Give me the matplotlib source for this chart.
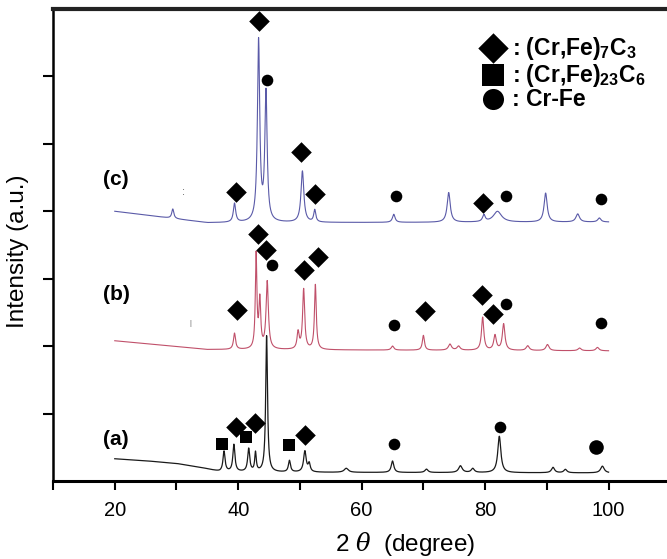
import numpy as np
import matplotlib
matplotlib.use("Agg")
import matplotlib.pyplot as plt

plt.rcParams['font.family'] = ['Liberation Sans', 'DejaVu Sans']
plt.rcParams['mathtext.fontset'] = 'custom'
plt.rcParams['mathtext.rm'] = 'Liberation Sans:bold'
plt.rcParams['mathtext.it'] = 'DejaVu Serif:italic'
plt.rcParams['mathtext.default'] = 'rm'

# ---- data (2theta in degrees, intensity in arbitrary stacked units) ----
# baselines: knots (2theta, level)
base_a_x = [20, 25, 30, 34, 37, 45, 100]
base_a_y = [0.33, 0.30, 0.26, 0.20, 0.14, 0.13, 0.12]
base_b_x = [20, 35, 100]
base_b_y = [2.08, 1.95, 1.93]
base_c_x = [20, 35, 100]
base_c_y = [4.00, 3.83, 3.84]

# peaks: position, height above baseline, FWHM
peaks_a_pos = [37.7, 39.3, 41.7, 42.8, 44.6, 48.3, 50.8, 51.5, 57.5, 65.0, 70.5, 76.0, 78.0, 82.3, 91.0, 93.0, 99.0]
peaks_a_h   = [0.30, 0.40, 0.34, 0.28, 2.02, 0.17, 0.31, 0.12, 0.06, 0.17, 0.05, 0.10, 0.06, 0.54, 0.08, 0.05, 0.10]
peaks_a_w   = [0.4, 0.4, 0.4, 0.3, 0.35, 0.4, 0.5, 0.4, 0.8, 0.5, 0.6, 0.7, 0.6, 0.6, 0.6, 0.6, 0.7]

peaks_b_pos = [39.4, 42.9, 43.5, 44.7, 49.7, 50.6, 52.5, 65.0, 70.0, 74.3, 75.7, 79.6, 81.6, 83.0, 86.9, 90.1, 95.3, 98.2]
peaks_b_h   = [0.24, 1.39, 0.71, 1.00, 0.25, 0.89, 0.96, 0.06, 0.22, 0.09, 0.06, 0.49, 0.22, 0.39, 0.07, 0.09, 0.04, 0.05]
peaks_b_w   = [0.4, 0.3, 0.35, 0.45, 0.4, 0.4, 0.35, 0.5, 0.4, 0.6, 0.6, 0.45, 0.5, 0.5, 0.6, 0.6, 0.6, 0.6]

peaks_c_pos = [29.4, 39.4, 43.3, 44.5, 50.4, 52.4, 65.2, 74.1, 79.8, 82.0, 89.8, 95.0, 98.5]
peaks_c_h   = [0.14, 0.28, 2.68, 1.90, 0.76, 0.18, 0.12, 0.44, 0.10, 0.16, 0.43, 0.12, 0.06]
peaks_c_w   = [0.4, 0.45, 0.45, 0.45, 0.55, 0.4, 0.5, 0.6, 0.5, 1.6, 0.6, 0.7, 0.6]

# phase markers (2theta, vertical position)
diam_x = [39.7, 42.7, 50.8, 39.8, 43.2, 44.5, 50.7, 52.9, 70.3, 79.5, 81.3, 43.3, 39.7, 50.1, 52.4, 79.7]
diam_y = [0.80, 0.86, 0.68, 2.54, 3.66, 3.43, 3.13, 3.32, 2.52, 2.76, 2.48, 6.82, 4.29, 4.88, 4.26, 4.12]
sq_x = [37.4, 41.3, 48.2]
sq_y = [0.556, 0.653, 0.534]
circ_x = [65.2, 82.4, 45.4, 65.3, 83.4, 98.8, 44.6, 65.5, 83.4, 98.8]
circ_y = [0.556, 0.80, 3.20, 2.32, 2.63, 2.35, 5.95, 4.22, 4.23, 4.18]
big_circ_x = [97.9]
big_circ_y = [0.50]

labels = ['(a)', '(b)', '(c)']
label_y = [0.62, 2.77, 4.47]
legend_texts = [r': (Cr,Fe)$_{7}$C$_{3}$', r': (Cr,Fe)$_{23}$C$_{6}$', ': Cr-Fe']
legend_y = [6.42, 6.02, 5.66]
xticks = [20, 40, 60, 80, 100]


def pattern(bx, by, pos, h, w, x):
    y = np.interp(x, bx, by)
    for p, a, fw in zip(pos, h, w):
        g = (fw / 2.0) ** 2
        y = y + a * g / ((x - p) ** 2 + g)
    return y


x = np.linspace(20, 100, 4001)
ya = pattern(base_a_x, base_a_y, peaks_a_pos, peaks_a_h, peaks_a_w, x)
yb = pattern(base_b_x, base_b_y, peaks_b_pos, peaks_b_h, peaks_b_w, x)
yc = pattern(base_c_x, base_c_y, peaks_c_pos, peaks_c_h, peaks_c_w, x)

fig = plt.figure(figsize=(6.67, 5.59), dpi=100)
ax = fig.add_axes([0.0795, 0.1395, 1.018, 0.8444])

ax.plot(x, ya, color='#1a1a1a', lw=0.9)
ax.plot(x, yb, color='#c0506a', lw=0.8)
ax.plot(x, yc, color='#5a5aa8', lw=0.8)

ax.scatter(diam_x, diam_y, marker='D', s=110, color='black', zorder=5, linewidths=0)
ax.scatter(sq_x, sq_y, marker='s', s=70, color='black', zorder=5, linewidths=0)
ax.scatter(circ_x, circ_y, marker='o', s=70, color='black', zorder=5, linewidths=0)
ax.scatter(big_circ_x, big_circ_y, marker='o', s=110, color='black', zorder=5, linewidths=0)

for lab, ly in zip(labels, label_y):
    ax.text(20.2, ly, lab, fontsize=15, fontweight='bold', ha='center', va='center')

# small scan artefacts
ax.text(31.2, 4.29, ':', fontsize=8, color='#555555', ha='center', va='center')
ax.text(32.3, 2.34, '|', fontsize=5, color='#666666', ha='center', va='center')

# legend
leg_marker_x = 81.3
ax.scatter([leg_marker_x], [legend_y[0]], marker='D', s=240, color='black', linewidths=0)
ax.scatter([leg_marker_x], [legend_y[1]], marker='s', s=260, color='black', linewidths=0)
ax.scatter([leg_marker_x], [legend_y[2]], marker='o', s=230, color='black', linewidths=0)
for t, ly in zip(legend_texts, legend_y):
    ax.text(84.4, ly, t, fontsize=16.5, fontweight='bold', ha='left', va='center')

ax.set_xlim(10, 120)
ax.set_ylim(0, 7)
ax.set_xticks(xticks)
ax.set_xticks(np.arange(10, 121, 10), minor=True)
ax.set_xticklabels([str(v) for v in xticks], fontsize=14.5)
ax.set_yticks([1, 2, 3, 4, 5, 6])
ax.set_yticklabels([])
ax.tick_params(axis='x', which='both', direction='out', length=6.5, width=1.5, pad=8)
ax.tick_params(axis='y', direction='out', length=7, width=1.5)
ax.spines['right'].set_visible(False)
ax.spines['top'].set_linewidth(3)
ax.spines['top'].set_color('#222222')
ax.spines['left'].set_linewidth(1.8)
ax.spines['bottom'].set_linewidth(2.2)

fig.text(0.607, 0.027, r'2 $\mathit{\theta}$  (degree)', fontsize=17.5, ha='center', va='center')
fig.text(0.027, 0.55, 'Intensity (a.u.)', fontsize=17.5, rotation=90, ha='center', va='center')

fig.savefig('out.png', dpi=100)
